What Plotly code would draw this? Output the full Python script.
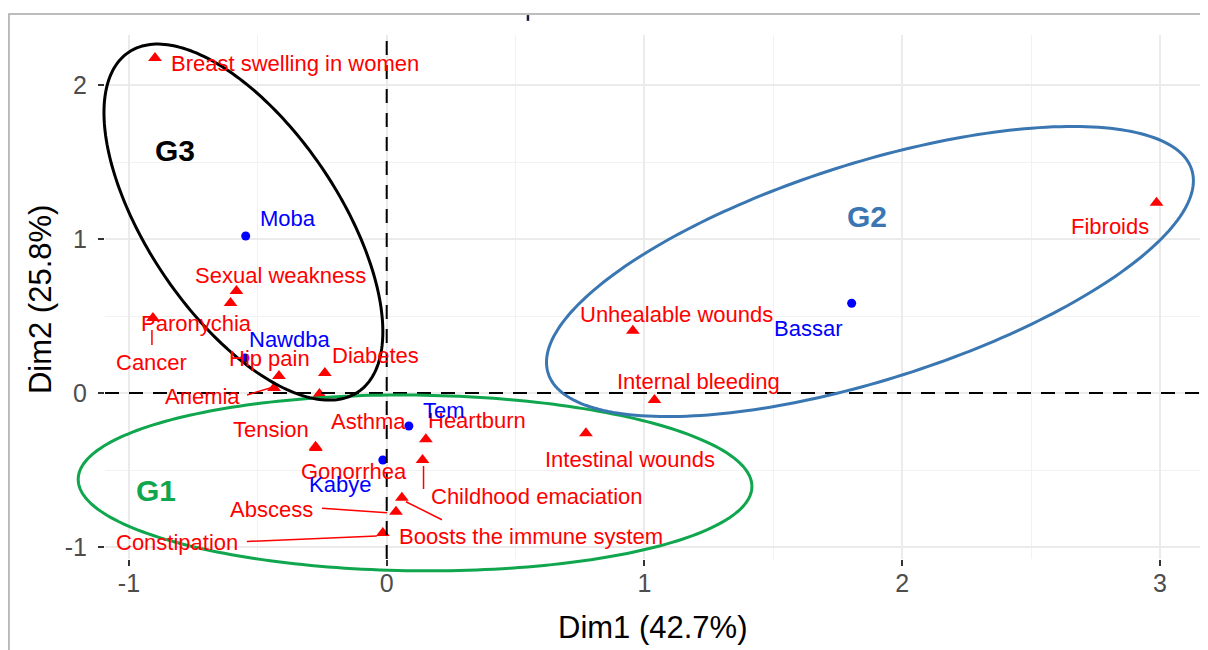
import numpy as np
import plotly.graph_objects as go

# ---------------- data ----------------
col_labels = ["Breast swelling in women", "Sexual weakness", "Paronychia", "Cancer",
              "Hip pain", "Anemia", "Diabetes", "Asthma", "Tension", "Gonorrhea",
              "Heartburn", "Childhood emaciation", "Boosts the immune system",
              "Abscess", "Constipation", "Intestinal wounds", "Unhealable wounds",
              "Internal bleeding", "Fibroids"]
col_x = [-0.899, -0.583, -0.606, -0.907, -0.418, -0.437, -0.240, -0.261, -0.276, -0.275,
         0.152, 0.139, 0.059, 0.036, -0.015, 0.773, 0.955, 1.039, 2.987]
col_y = [2.175, 0.662, 0.584, 0.487, 0.110, 0.033, 0.130, -0.007, -0.349, -0.357,
         -0.301, -0.435, -0.680, -0.771, -0.909, -0.262, 0.405, -0.046, 1.236]

row_labels = ["Moba", "Nawdba", "Tem", "Kabye", "Bassar"]
row_x = [-0.547, -0.550, 0.086, -0.015, 1.804]
row_y = [1.020, 0.227, -0.214, -0.435, 0.583]

x_ticks = [-1, 0, 1, 2, 3]
y_ticks = [-1, 0, 1, 2]
x_title = "Dim1 (42.7%)"
y_title = "Dim2 (25.8%)"

group_names = ["G1", "G2", "G3"]
group_colors = ["#0FA64E", "#3A77B2", "#000000"]
# ellipse: centre x, centre y, half-width, half-height, correlation
group_cx = [0.110, 1.875, -0.556]
group_cy = [-0.584, 0.789, 1.110]
group_rx = [1.307, 1.255, 0.541]
group_ry = [0.571, 0.942, 1.156]
group_rho = [-0.04, 0.626, -0.615]
group_label_x = [-0.897, 1.865, -0.822]
group_label_y = [-0.630, 1.145, 1.578]

# ---------------- styling / label placement (pixels) ----------------
col_shift = [(140, -5), (44, 16), (-34, -20), (-1.5, -44), (-9, 18), (-71.5, -9),
             (51, 17), (49.5, -27), (-44.5, 17), (38, -24), (51, 18.5), (114, -37),
             (129.5, -39), (-124, 2), (-205.5, -10), (44.5, -26), (44, 16.5),
             (44, 18.3), (-46.6, -24)]
row_shift = [(42, 17), (45, 18.7), (35, 15), (-43, -25), (-44, -25)]
# leader segments: label -> ((x0, y0), (x1, y1)) pixel offsets from the point
segments = {
    "Cancer": ((-1, -12), (-1, -27)),
    "Anemia": ((-27, -7), (-4, 0)),
    "Childhood emaciation": ((1, -6), (1, -29)),
    "Boosts the immune system": ((4, -4), (40, -22)),
    "Abscess": ((-74, 3.5), (-9, -1)),
    "Constipation": ((-136, -8.5), (-6, -3)),
}

XR = [-1.093, 3.175]
YR = [-1.078, 2.325]
FONT = "Liberation Sans, Arial, sans-serif"
RED = "#FF0000"
BLUE = "#0000FF"

fig = go.Figure()

fig.add_trace(go.Scatter(x=row_x, y=row_y, mode="markers",
                         marker=dict(symbol="circle", size=9, color=BLUE),
                         hovertext=row_labels, showlegend=False))
fig.add_trace(go.Scatter(x=col_x, y=col_y, mode="markers",
                         marker=dict(symbol="triangle-up", size=12, color=RED),
                         hovertext=col_labels, showlegend=False))

annotations = []
for lab, x, y, (dx, dy) in zip(col_labels, col_x, col_y, col_shift):
    annotations.append(dict(x=x, y=y, xref="x", yref="y", text=lab, showarrow=False,
                            xshift=dx, yshift=dy, xanchor="center", yanchor="middle",
                            font=dict(family=FONT, size=22, color=RED)))
for lab, x, y, (dx, dy) in zip(row_labels, row_x, row_y, row_shift):
    annotations.append(dict(x=x, y=y, xref="x", yref="y", text=lab, showarrow=False,
                            xshift=dx, yshift=dy, xanchor="center", yanchor="middle",
                            font=dict(family=FONT, size=22, color=BLUE)))
for name, col, gx, gy in zip(group_names, group_colors, group_label_x, group_label_y):
    annotations.append(dict(x=gx, y=gy, xref="x", yref="y", text=name, showarrow=False,
                            xanchor="center", yanchor="middle",
                            font=dict(family=FONT, size=30, color=col, weight="bold")))
# axis titles
annotations.append(dict(x=0.498, y=-0.1298, xref="paper", yref="paper", text=x_title,
                        showarrow=False, xanchor="center", yanchor="middle",
                        font=dict(family=FONT, size=31, color="black")))
annotations.append(dict(x=-0.0591, y=0.496, xref="paper", yref="paper", text=y_title,
                        showarrow=False, xanchor="center", yanchor="middle", textangle=-90,
                        font=dict(family=FONT, size=31, color="black")))

shapes = []
# dashed reference lines
shapes.append(dict(type="line", xref="x", yref="y domain", x0=0, x1=0, y0=0, y1=1,
                   line=dict(color="black", width=2, dash="14px,10px"), layer="above"))
shapes.append(dict(type="line", xref="x domain", yref="y", x0=0, x1=1, y0=0, y1=0,
                   line=dict(color="black", width=2, dash="14px,10px"), layer="above"))

# leader segments
for lab, ((sx0, sy0), (sx1, sy1)) in segments.items():
    i = col_labels.index(lab)
    shapes.append(dict(type="line", xref="x", yref="y", xsizemode="pixel", ysizemode="pixel",
                       xanchor=col_x[i], yanchor=col_y[i], x0=sx0, x1=sx1, y0=sy0, y1=sy1,
                       line=dict(color=RED, width=1.5)))

# group ellipses (drawn in axis-domain units so they may run past the panel edge)
t = np.linspace(0, 2 * np.pi, 241)
for col, cx, cy, rx, ry, rho in zip(group_colors, group_cx, group_cy, group_rx, group_ry, group_rho):
    ex = cx + rx * np.cos(t)
    ey = cy + ry * (rho * np.cos(t) + np.sqrt(1 - rho ** 2) * np.sin(t))
    dxs = (ex - XR[0]) / (XR[1] - XR[0])
    dys = (ey - YR[0]) / (YR[1] - YR[0])
    path = "M " + " L ".join(f"{a:.5f},{b:.5f}" for a, b in zip(dxs, dys)) + " Z"
    shapes.append(dict(type="path", xref="x domain", yref="y domain", path=path,
                       line=dict(color=col, width=3)))

# outer frame and small stray tick seen in the image
shapes.append(dict(type="rect", xref="paper", yref="paper", x0=-0.0873, x1=1.02,
                   y0=-0.3, y1=1.0401, line=dict(color="#A8A8A8", width=1.5)))
shapes.append(dict(type="line", xref="paper", yref="paper", x0=0.3845, x1=0.3845,
                   y0=1.027, y1=1.038, line=dict(color="#1A1A3A", width=2.5)))

axis_common = dict(
    showline=False, zeroline=False,
    showgrid=True, gridcolor="#EBEBEB", gridwidth=1.5,
    ticks="outside", ticklen=6, tickwidth=2, tickcolor="#333333",
    tickfont=dict(family=FONT, size=25, color="#4D4D4D"),
    automargin=False,
)

fig.update_layout(
    width=1200, height=642,
    margin=dict(l=97, r=3, t=27, b=91),
    paper_bgcolor="white", plot_bgcolor="white",
    showlegend=False,
    annotations=annotations,
    shapes=shapes,
    xaxis=dict(range=XR, tickmode="array", tickvals=x_ticks,
               ticktext=[str(v) if v >= 0 else "-" + str(-v) for v in x_ticks],
               minor=dict(tickmode="linear", tick0=0, dtick=0.5, showgrid=True,
                          gridcolor="#F2F2F2", gridwidth=1, ticks=""),
               ticklabelstandoff=-4,
               **axis_common),
    yaxis=dict(range=YR, tickmode="array", tickvals=y_ticks,
               ticktext=[str(v) if v >= 0 else "-" + str(-v) for v in y_ticks],
               minor=dict(tickmode="linear", tick0=0, dtick=0.5, showgrid=True,
                          gridcolor="#F2F2F2", gridwidth=1, ticks=""),
               ticklabelstandoff=6,
               **axis_common),
)

fig.write_html("out.html")
